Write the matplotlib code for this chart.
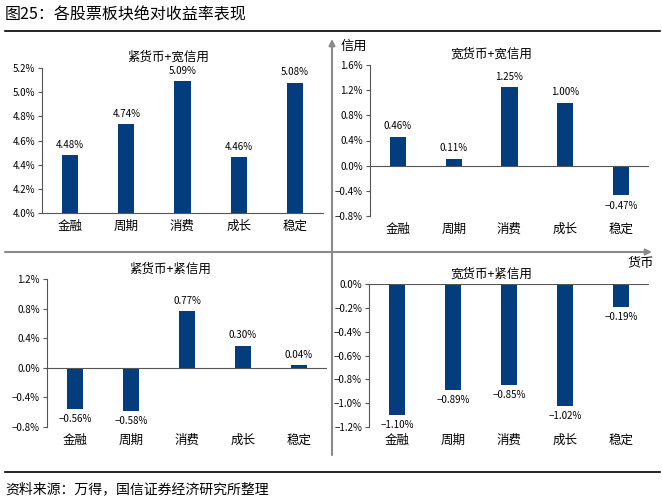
import matplotlib
matplotlib.use('Agg')
import matplotlib.pyplot as plt
from matplotlib.ticker import FuncFormatter

plt.rcParams['font.family'] = ['Noto Sans CJK SC', 'DejaVu Sans']

W, H = 662, 504
BAR = '#033d7d'

categories = ['金融', '周期', '消费', '成长', '稳定']
tight_loose = [4.48, 4.74, 5.09, 4.46, 5.08]      # 紧货币+宽信用
loose_loose = [0.46, 0.11, 1.25, 1.00, -0.47]     # 宽货币+宽信用
tight_tight = [-0.56, -0.58, 0.77, 0.30, 0.04]    # 紧货币+紧信用
loose_tight = [-1.10, -0.89, -0.85, -1.02, -0.19] # 宽货币+紧信用

panels = [
    # title, values, (left, right, top, bottom) px, ylim, yticks, baseline, title pos px
    ('紧货币+宽信用', tight_loose, (42, 323, 68, 213), (4.0, 5.2), [4.0, 4.2, 4.4, 4.6, 4.8, 5.0, 5.2], 4.0, (168, 57)),
    ('宽货币+宽信用', loose_loose, (370, 649, 65, 216), (-0.8, 1.6), [-0.8, -0.4, 0.0, 0.4, 0.8, 1.2, 1.6], 0.0, (491, 54)),
    ('紧货币+紧信用', tight_tight, (47, 327, 279, 427), (-0.8, 1.2), [-0.8, -0.4, 0.0, 0.4, 0.8, 1.2], 0.0, (170, 269)),
    ('宽货币+紧信用', loose_tight, (369, 649, 284, 427), (-1.2, 0.0), [-1.2, -1.0, -0.8, -0.6, -0.4, -0.2, 0.0], 0.0, (491, 274)),
]


def pct(v, nd):
    s = f'{v:.{nd}f}%'
    return s.replace('-', '\u2212')


fig = plt.figure(figsize=(W / 100, H / 100), dpi=100)

# overlay in pixel coords for frame lines, arrows and captions
bg = fig.add_axes([0, 0, 1, 1], zorder=0)
bg.set_xlim(0, W)
bg.set_ylim(H, 0)
bg.axis('off')
bg.text(5, 15, '图25：各股票板块绝对收益率表现', fontsize=11.5, va='center', ha='left')
bg.plot([5, 660], [31, 31], color='black', lw=1.2)
bg.plot([5, 660], [472, 472], color='black', lw=1.2)
bg.text(5, 489, '资料来源：万得，国信证券经济研究所整理', fontsize=10, va='center', ha='left')

gray = '#8a8a8a'
bg.annotate('', xy=(652, 252), xytext=(5, 252),
            arrowprops=dict(arrowstyle='-|>', color=gray, lw=1.5, mutation_scale=9, shrinkA=0, shrinkB=0))
bg.annotate('', xy=(332, 39), xytext=(332, 455),
            arrowprops=dict(arrowstyle='-|>', color=gray, lw=1.5, mutation_scale=9, shrinkA=0, shrinkB=0))
bg.text(341, 46, '信用', fontsize=9.5, va='center', ha='left')
bg.text(641, 263, '货币', fontsize=9.5, va='center', ha='center')

for title, vals, (l, r, t, b), ylim, yticks, base, (tx, ty) in panels:
    ax = fig.add_axes([l / W, 1 - b / H, (r - l) / W, (b - t) / H], zorder=1)
    ax.patch.set_alpha(0)
    x = list(range(len(categories)))
    heights = [v - base for v in vals]
    ax.bar(x, heights, bottom=base, width=0.29, color=BAR, zorder=2)
    ax.set_xlim(-0.5, len(categories) - 0.5)
    ax.set_ylim(*ylim)
    ax.set_yticks(yticks)
    ax.yaxis.set_major_formatter(FuncFormatter(lambda v, p: pct(v, 1)))
    ax.tick_params(axis='y', direction='out', length=3, width=0.8, labelsize=7, pad=2, color='#555555')
    ax.tick_params(axis='x', length=0, labelsize=9, pad=5)
    ax.set_xticks(x)
    ax.set_xticklabels(categories)
    for s in ['top', 'right']:
        ax.spines[s].set_visible(False)
    ax.spines['left'].set_color('#555555')
    ax.spines['left'].set_linewidth(0.8)
    if base == ylim[0]:
        ax.spines['bottom'].set_color('#555555')
        ax.spines['bottom'].set_linewidth(0.8)
    else:
        ax.spines['bottom'].set_visible(False)
        ax.axhline(0, color='#555555', lw=0.8, zorder=3)
    span = ylim[1] - ylim[0]
    for xi, v in zip(x, vals):
        if v >= base:
            ax.text(xi, v + span * 0.035, pct(v, 2), ha='center', va='bottom', fontsize=7)
        else:
            ax.text(xi, v - span * 0.035, pct(v, 2), ha='center', va='top', fontsize=7)
    bg.text(tx, ty, title, fontsize=9, ha='center', va='center')

fig.savefig('out.png', dpi=100)
